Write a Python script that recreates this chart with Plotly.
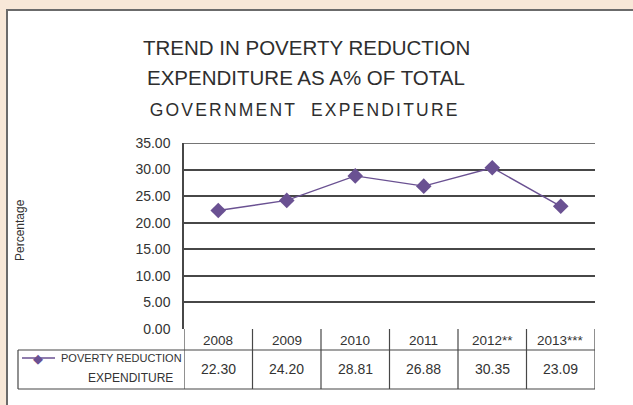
import plotly.graph_objects as go

years = ["2008", "2009", "2010", "2011", "2012**", "2013***"]
values = [22.30, 24.20, 28.81, 26.88, 30.35, 23.09]
value_labels = ["22.30", "24.20", "28.81", "26.88", "30.35", "23.09"]
series_name = ["POVERTY REDUCTION", "EXPENDITURE"]
y_ticks = [0, 5, 10, 15, 20, 25, 30, 35]
title_lines = ["TREND IN POVERTY REDUCTION", "EXPENDITURE AS A% OF TOTAL", "GOVERNMENT  EXPENDITURE"]

W, H = 633, 405
L, R, T, B = 184, 38, 143, 76
PW, PH = W - L - R, H - T - B

def px(xp):
    return (xp - L) / PW

def py(yp):
    return (H - B - yp) / PH

PURPLE = "#6A5192"
LINE = "#474747"
FONT = "Liberation Sans, Arial, sans-serif"

xs = list(range(len(years)))

fig = go.Figure()
fig.add_trace(go.Scatter(
    x=xs, y=values, mode="lines+markers",
    line=dict(color=PURPLE, width=1.4),
    marker=dict(symbol="diamond", size=12, color=PURPLE),
    showlegend=False, hoverinfo="skip", cliponaxis=False,
))

shapes = []
shapes.append(dict(type="rect", xref="paper", yref="paper", layer="below",
                   x0=px(7), x1=px(W + 20), y0=py(10), y1=py(H + 20),
                   fillcolor="white", line=dict(color="#6b6b6b", width=2)))
shapes.append(dict(type="line", xref="paper", yref="y", x0=0, x1=1, y0=y_ticks[-1], y1=y_ticks[-1],
                   line=dict(color=LINE, width=1.5)))

row1 = py(350)
row2 = py(389)
shapes.append(dict(type="line", xref="paper", yref="paper", x0=px(18), x1=1, y0=row1, y1=row1,
                   line=dict(color=LINE, width=1.2)))
shapes.append(dict(type="line", xref="paper", yref="paper", x0=px(18), x1=1, y0=row2, y1=row2,
                   line=dict(color=LINE, width=1.2)))
shapes.append(dict(type="line", xref="paper", yref="paper", x0=px(18), x1=px(18), y0=row1, y1=row2,
                   line=dict(color=LINE, width=1.2)))
for i in range(len(years) + 1):
    shapes.append(dict(type="line", xref="x", yref="paper", x0=i - 0.5, x1=i - 0.5, y0=0, y1=row2,
                       line=dict(color=LINE, width=1.2)))
shapes.append(dict(type="line", xref="paper", yref="paper", x0=px(22), x1=px(55), y0=py(358), y1=py(358),
                   line=dict(color=PURPLE, width=1.5)))

annotations = []
title_y = [47, 77, 110]
title_sizes = [20.5, 20.5, 17.5]
title_x = [306, 306, 304]
for t, yy, s, xx in zip(title_lines, title_y, title_sizes, title_x):
    annotations.append(dict(text=t, xref="paper", yref="paper", x=px(xx), y=py(yy),
                            showarrow=False, xanchor="center", yanchor="middle",
                            font=dict(family=FONT, size=s, color="#2e2e2e")))
annotations.append(dict(text="Percentage", xref="paper", yref="paper", x=px(20), y=py(230),
                        textangle=-90, showarrow=False, xanchor="center", yanchor="middle",
                        font=dict(family=FONT, size=12, color="#333333")))
for i, (yr, v) in enumerate(zip(years, value_labels)):
    annotations.append(dict(text=yr, xref="x", yref="paper", x=i, y=py(340),
                            showarrow=False, xanchor="center", yanchor="middle",
                            font=dict(family=FONT, size=13.5, color="#333333")))
    annotations.append(dict(text=v, xref="x", yref="paper", x=i, y=py(369),
                            showarrow=False, xanchor="center", yanchor="middle",
                            font=dict(family=FONT, size=14, color="#333333")))
annotations.append(dict(text="◆", xref="paper", yref="paper", x=px(38), y=py(358),
                        showarrow=False, xanchor="center", yanchor="middle",
                        font=dict(family="DejaVu Sans", size=13, color=PURPLE)))
annotations.append(dict(text=series_name[0], xref="paper", yref="paper", x=px(121), y=py(358),
                        showarrow=False, xanchor="center", yanchor="middle",
                        font=dict(family=FONT, size=11, color="#333333")))
annotations.append(dict(text=series_name[1], xref="paper", yref="paper", x=px(130), y=py(378),
                        showarrow=False, xanchor="center", yanchor="middle",
                        font=dict(family=FONT, size=12, color="#333333")))

fig.update_layout(
    width=W, height=H,
    margin=dict(l=L, r=R, t=T, b=B, pad=0),
    paper_bgcolor="#F8E8D8",
    plot_bgcolor="white",
    shapes=shapes,
    annotations=annotations,
    xaxis=dict(range=[-0.5, len(years) - 0.5], showgrid=False, zeroline=False,
               showticklabels=False, showline=False, fixedrange=True),
    yaxis=dict(range=[0, 35], tickvals=y_ticks, tickformat=".2f",
               showgrid=True, gridcolor=LINE, gridwidth=1.5,
               zeroline=False, showline=True, linecolor=LINE, linewidth=1.5,
               ticks="", ticklabelstandoff=9, fixedrange=True,
               tickfont=dict(family=FONT, size=14, color="#333333")),
)

post = """
document.body.style.margin='0';
document.querySelectorAll('.annotation-text').forEach(function(el){
  if (el.textContent.indexOf('GOVERNMENT') === 0) { el.style.letterSpacing = '2.2px'; }
});
"""
fig.write_html("out.html", config={"displayModeBar": False}, post_script=post)
